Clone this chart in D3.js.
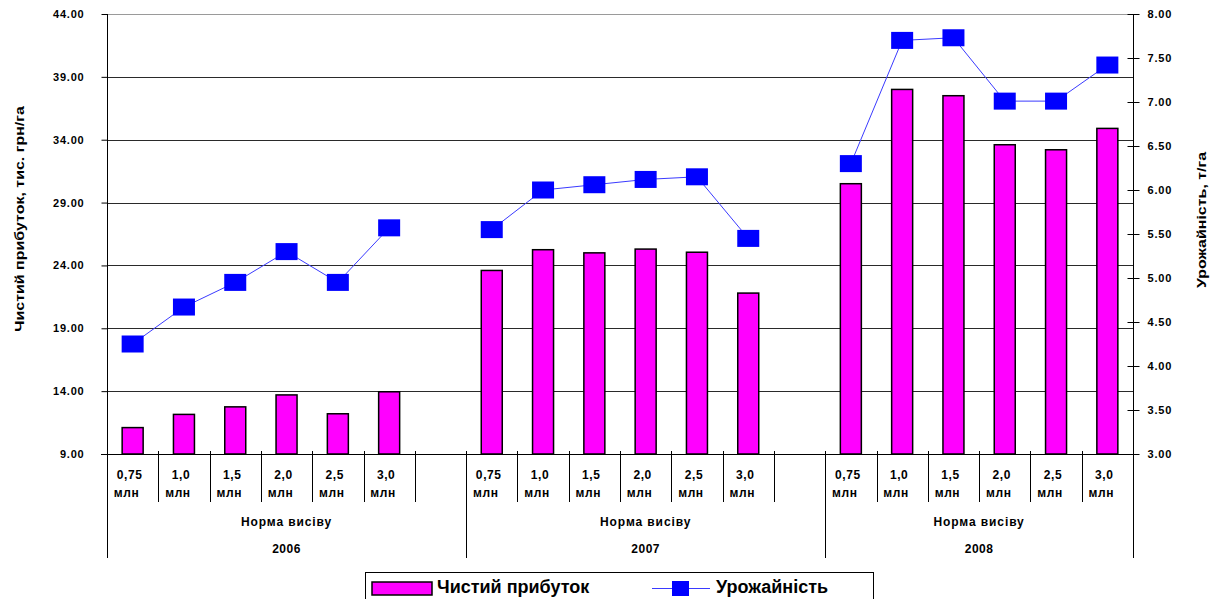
<!DOCTYPE html>
<html>
<head>
<meta charset="utf-8">
<script src="https://cdn.jsdelivr.net/npm/d3@7"></script>
<style>
  html, body { margin: 0; padding: 0; background: #fff; }
  svg { display: block; font-family: "Liberation Sans", Arial, sans-serif; font-weight: bold; }
</style>
</head>
<body>
<svg id="chart" width="1219" height="599"></svg>
<script>
// Seeding rates (млн) and years
const years = ["2006", "2007", "2008"];
const rates = ["0,75", "1,0", "1,5", "2,0", "2,5", "3,0"];

// Net profit, thousand UAH/ha (left axis)
const profit2006 = [11.1, 12.15, 12.75, 13.7, 12.2, 13.95];
const profit2007 = [23.6, 25.25, 25.0, 25.3, 25.05, 21.8];
const profit2008 = [30.5, 38.0, 37.5, 33.6, 33.2, 34.9];

// Yield, t/ha (right axis)
const yield2006 = [4.25, 4.67, 4.95, 5.30, 4.95, 5.57];
const yield2007 = [5.55, 6.00, 6.06, 6.12, 6.15, 5.45];
const yield2008 = [6.30, 7.70, 7.73, 7.01, 7.01, 7.42];

const leftTicks = [9, 14, 19, 24, 29, 34, 39, 44];
const rightTicks = [3, 3.5, 4, 4.5, 5, 5.5, 6, 6.5, 7, 7.5, 8];

const profitByYear = [profit2006, profit2007, profit2008];
const yieldByYear = [yield2006, yield2007, yield2008];

// slot keys: six rates per year, with an empty slot after 2006 and 2007
const slots = [];
years.forEach((y, yi) => {
  rates.forEach((r, ri) => slots.push(y + "|" + ri));
  if (yi < years.length - 1) slots.push(y + "|gap");
});

const L = 107, R = 1133, T = 14, B = 454;
const svg = d3.select("#chart");

const x = d3.scaleBand().domain(slots).range([L, R]).padding(0);
const yL = d3.scaleLinear().domain([9, 44]).range([B, T]);
const yR = d3.scaleLinear().domain([3, 8]).range([B, T]);
const fmt = d3.format(".2f");

// horizontal gridlines
svg.append("g").selectAll("line").data(leftTicks.slice(1)).join("line")
  .attr("x1", L).attr("x2", R)
  .attr("y1", d => Math.round(yL(d)) + 0.5).attr("y2", d => Math.round(yL(d)) + 0.5)
  .attr("stroke", (d, i) => i === leftTicks.length - 2 ? "#9a9a9a" : "#2a2a2a")
  .attr("stroke-width", 1);

// left axis
const axL = svg.append("g").attr("transform", `translate(${L + 0.5},0)`)
  .call(d3.axisLeft(yL).tickValues(leftTicks).tickFormat(fmt).tickSize(6).tickPadding(17));
axL.select(".domain").attr("stroke", "#000").attr("d", `M0,${T}V${B}`);
axL.selectAll(".tick line").attr("stroke", "#000");
axL.selectAll(".tick text").attr("font-size", 11).attr("font-weight", "bold")
  .attr("font-family", "Liberation Sans, Arial, sans-serif").attr("fill", "#000")
  .attr("letter-spacing", 0.8);

// right axis
const axR = svg.append("g").attr("transform", `translate(${R + 0.5},0)`)
  .call(d3.axisRight(yR).tickValues(rightTicks).tickFormat(fmt).tickSize(6).tickPadding(8));
axR.select(".domain").attr("stroke", "#000").attr("d", `M0,${T}V${B}`);
axR.selectAll(".tick line").attr("stroke", "#000").attr("x1", -6);
axR.selectAll(".tick text").attr("font-size", 11).attr("font-weight", "bold")
  .attr("font-family", "Liberation Sans, Arial, sans-serif").attr("fill", "#000")
  .attr("letter-spacing", 0.8);

// bottom baseline
svg.append("line").attr("x1", L - 6).attr("x2", R + 6)
  .attr("y1", B + 0.5).attr("y2", B + 0.5).attr("stroke", "#000");

// category separators (short) and year separators (long)
const g = svg.append("g");
slots.forEach((s, i) => {
  const x0 = Math.round(x(s)) + 0.5;
  const isYearStart = s.endsWith("|0");
  g.append("line").attr("x1", x0).attr("x2", x0)
    .attr("y1", B - 3).attr("y2", isYearStart ? 558 : 502)
    .attr("stroke", "#000");
});
g.append("line").attr("x1", R + 0.5).attr("x2", R + 0.5)
  .attr("y1", B).attr("y2", 558).attr("stroke", "#000");

// category labels
const labels = svg.append("g").attr("font-size", 12).attr("fill", "#000").attr("text-anchor", "middle");
years.forEach((yr, yi) => {
  rates.forEach((r, ri) => {
    const k = yr + "|" + ri;
    const cx = x(k) + x.bandwidth() / 2;
    labels.append("text").attr("x", cx - 3).attr("y", 479).attr("letter-spacing", 0.6).text(r);
    labels.append("text").attr("x", cx - 6).attr("y", 497).attr("letter-spacing", 0.6).text("млн");
  });
  const first = x(yr + "|0");
  const last = x(yr + "|5") + x.bandwidth();
  const end = yi < years.length - 1 ? x(yr + "|gap") + x.bandwidth() : last;
  const mid = (first + end) / 2;
  labels.append("text").attr("x", mid).attr("y", 526).attr("letter-spacing", 0.9).text("Норма висіву");
  labels.append("text").attr("x", mid).attr("y", 553).attr("letter-spacing", 0.5).text(yr);
});

// bars: net profit
const barW = 21;
const barData = [];
years.forEach((yr, yi) => rates.forEach((r, ri) =>
  barData.push({ key: yr + "|" + ri, v: profitByYear[yi][ri] })));
svg.append("g").selectAll("rect").data(barData).join("rect")
  .attr("x", d => x(d.key) + x.bandwidth() / 2 - barW / 2)
  .attr("y", d => yL(d.v))
  .attr("width", barW)
  .attr("height", d => yL(9) - yL(d.v))
  .attr("fill", "#ff00ff")
  .attr("stroke", "#000").attr("stroke-width", 1.5);

// line: yield, one segment per year
const line = d3.line().x(d => x(d.key) + x.bandwidth() / 2).y(d => yR(d.v));
const lineData = years.map((yr, yi) => rates.map((r, ri) => ({ key: yr + "|" + ri, v: yieldByYear[yi][ri] })));
svg.append("g").selectAll("path").data(lineData).join("path")
  .attr("d", line).attr("fill", "none").attr("stroke", "#3a3aff").attr("stroke-width", 1);
const mW = 22, mH = 17;
svg.append("g").selectAll("rect").data(lineData.flat()).join("rect")
  .attr("x", d => x(d.key) + x.bandwidth() / 2 - mW / 2)
  .attr("y", d => yR(d.v) - mH / 2)
  .attr("width", mW).attr("height", mH)
  .attr("fill", "#0000ff");

// axis titles (glyphs slightly narrowed across the reading direction)
svg.append("text").attr("transform", `translate(24,219) rotate(-90) scale(1,0.85)`)
  .attr("text-anchor", "middle").attr("font-size", 16).attr("fill", "#000")
  .text("Чистий прибуток, тис. грн/га");
svg.append("text").attr("transform", `translate(1206,220) rotate(-90) scale(1,0.85)`)
  .attr("text-anchor", "middle").attr("font-size", 16).attr("fill", "#000")
  .text("Урожайність, т/га");

// legend
const lg = svg.append("g");
lg.append("rect").attr("x", 365.5).attr("y", 572.5).attr("width", 508).attr("height", 40)
  .attr("fill", "#fff").attr("stroke", "#000");
lg.append("rect").attr("x", 372).attr("y", 582).attr("width", 60).attr("height", 13)
  .attr("fill", "#ff00ff").attr("stroke", "#000").attr("stroke-width", 1.5);
lg.append("text").attr("x", 437).attr("y", 593).attr("font-size", 18).attr("fill", "#000")
  .text("Чистий прибуток");
lg.append("line").attr("x1", 652).attr("x2", 710).attr("y1", 588.5).attr("y2", 588.5)
  .attr("stroke", "#3a3aff").attr("stroke-width", 1);
lg.append("rect").attr("x", 672).attr("y", 581).attr("width", 17).attr("height", 15).attr("fill", "#0000ff");
lg.append("text").attr("x", 716).attr("y", 593).attr("font-size", 18).attr("fill", "#000")
  .text("Урожайність");
</script>
</body>
</html>
